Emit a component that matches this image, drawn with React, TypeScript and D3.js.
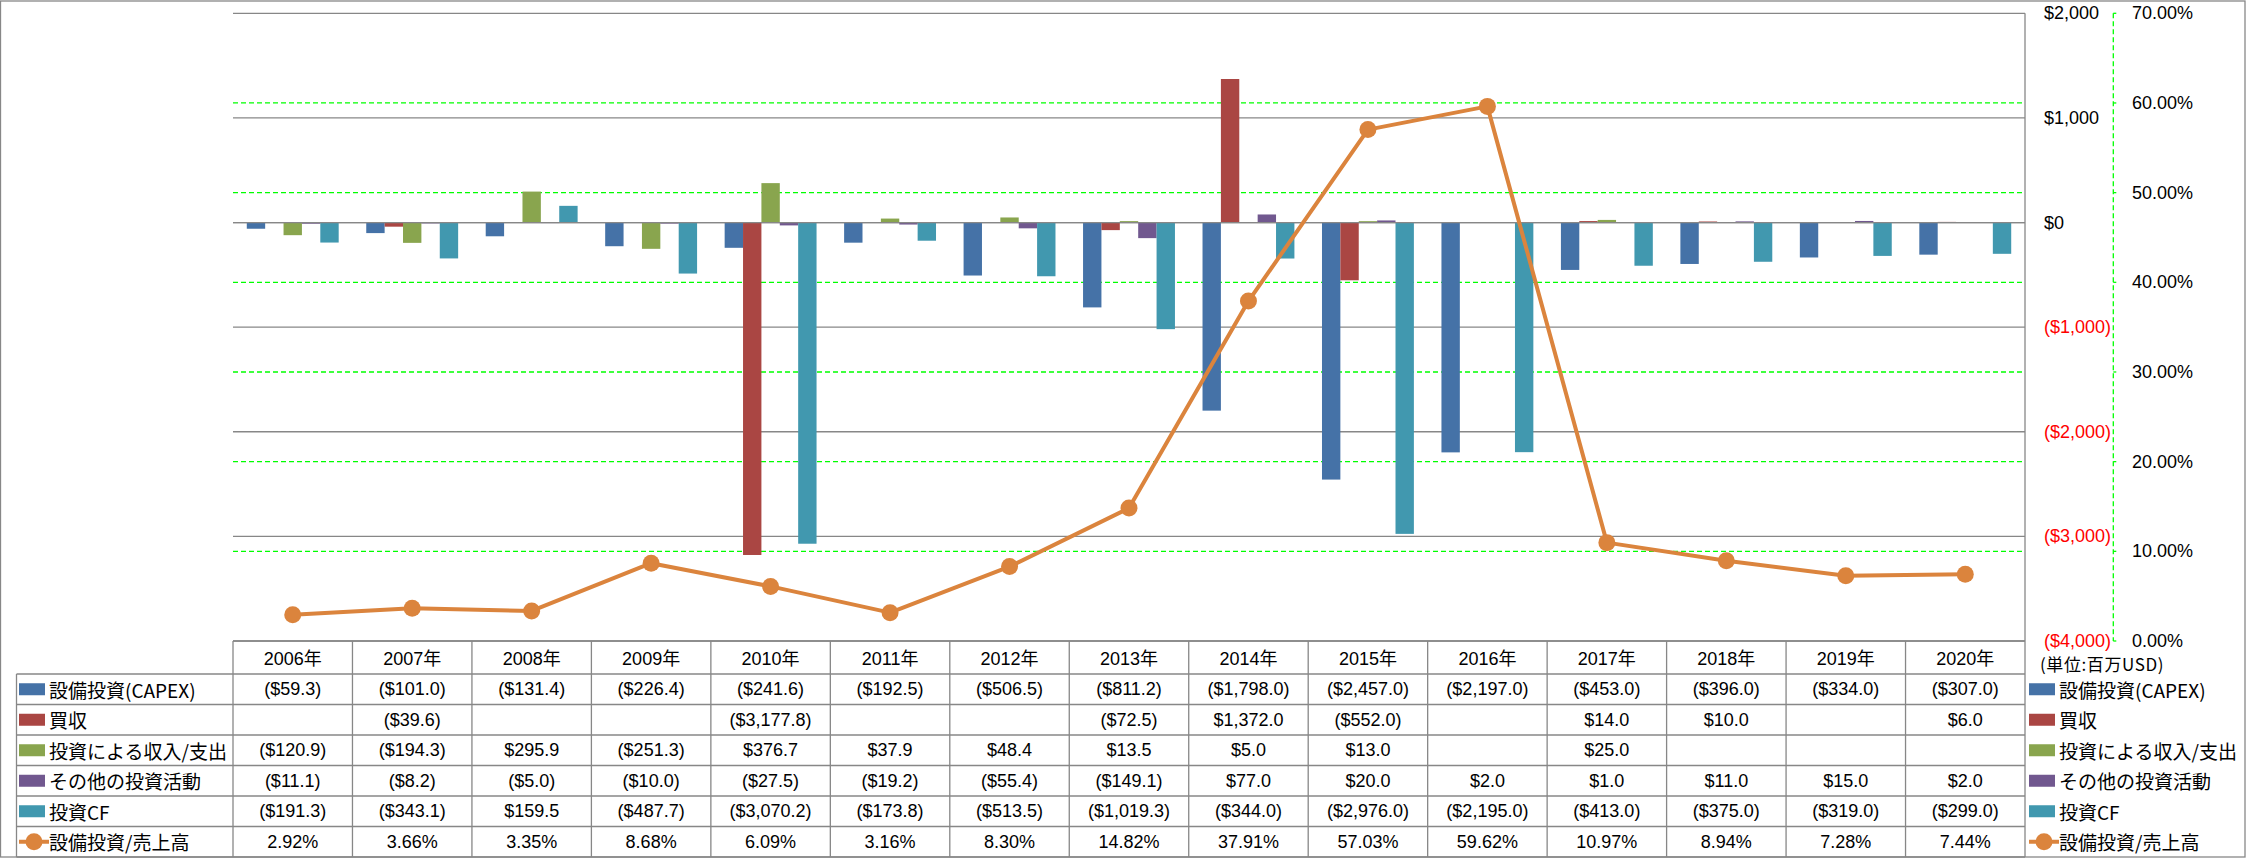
import React from "react";
import * as d3 from "d3";

const years = ["2006年","2007年","2008年","2009年","2010年","2011年","2012年","2013年","2014年","2015年","2016年","2017年","2018年","2019年","2020年"];
const capex: (number | null)[] = [-59.3,-101.0,-131.4,-226.4,-241.6,-192.5,-506.5,-811.2,-1798.0,-2457.0,-2197.0,-453.0,-396.0,-334.0,-307.0];
const acquisition: (number | null)[] = [null,-39.6,null,null,-3177.8,null,null,-72.5,1372.0,-552.0,null,14.0,10.0,null,6.0];
const investIncome: (number | null)[] = [-120.9,-194.3,295.9,-251.3,376.7,37.9,48.4,13.5,5.0,13.0,null,25.0,null,null,null];
const otherInvest: (number | null)[] = [-11.1,-8.2,-5.0,-10.0,-27.5,-19.2,-55.4,-149.1,77.0,20.0,2.0,1.0,11.0,15.0,2.0];
const investCF: (number | null)[] = [-191.3,-343.1,159.5,-487.7,-3070.2,-173.8,-513.5,-1019.3,-344.0,-2976.0,-2195.0,-413.0,-375.0,-319.0,-299.0];
const capexRatio = [2.92,3.66,3.35,8.68,6.09,3.16,8.30,14.82,37.91,57.03,59.62,10.97,8.94,7.28,7.44];

const seriesNames = ["設備投資(CAPEX)","買収","投資による収入/支出","その他の投資活動","投資CF"];
const lineName = "設備投資/売上高";
const seriesColors = ["#4572A7","#AA4643","#89A54E","#71588F","#4198AF"];
const lineColor = "#DB843D";
const leftTicks = [2000,1000,0,-1000,-2000,-3000,-4000];
const rightTicks = [0.7,0.6,0.5,0.4,0.3,0.2,0.1,0.0];
const unitLabel = "(単位:百万USD)";

const W = 2246, H = 858;
const plotL = 233, plotR = 2025, plotT = 13.3, plotB = 641;
const headerB = 674, rowH = 30.5;
const tableL = 16.5;
const font = "'Liberation Sans', Arial, 'Noto Sans CJK JP', sans-serif";
const cjkFont = "'Noto Sans CJK JP', 'Liberation Sans', sans-serif";
const grid = "#878787";

const fmtMoney = (v: number | null) => {
  if (v === null) return "";
  const s = "$" + d3.format(",.1f")(Math.abs(v));
  return v < 0 ? `(${s})` : s;
};
const fmtMoneyAxis = (v: number) => {
  const s = "$" + d3.format(",")(Math.abs(v));
  return v < 0 ? `(${s})` : s;
};

export default function App() {
  const x = d3.scaleBand<string>().domain(years).range([plotL, plotR]).padding(0);
  const bw = x.bandwidth();
  const sub = bw / 6.5;
  const xs = d3.scaleBand<number>().domain([0,1,2,3,4]).range([0.75 * sub, 5.75 * sub]).padding(0);
  const y = d3.scaleLinear().domain([-4000, 2000]).range([plotB, plotT]);
  const yR = d3.scaleLinear().domain([0, 0.7]).range([plotB, plotT]);
  const allSeries = [capex, acquisition, investIncome, otherInvest, investCF];
  const line = d3.line<number>()
    .x((_, i) => (x(years[i]) as number) + bw / 2)
    .y((d) => yR(d / 100));
  const rowsData: string[][] = [
    ...allSeries.map((s) => s.map(fmtMoney)),
    capexRatio.map((v) => v.toFixed(2) + "%"),
  ];
  const rowNames = [...seriesNames, lineName];
  const rowY = (r: number) => headerB + r * rowH;
  const axisX = 2113.3;

  const legendMark = (r: number, lx: number) => {
    const cy = rowY(r) + rowH / 2;
    if (r < 5) {
      return <rect x={lx} y={cy - 6} width={26} height={12} fill={seriesColors[r]} />;
    }
    return (
      <g>
        <line x1={lx} x2={lx + 30} y1={cy} y2={cy} stroke={lineColor} strokeWidth={4} />
        <circle cx={lx + 15} cy={cy} r={8.5} fill={lineColor} />
      </g>
    );
  };

  return (
    <div style={{ position: "absolute", left: 0, top: 0 }}>
      <svg width={W} height={H} style={{ display: "block", background: "#fff" }}>
        <rect x={0.5} y={1} width={W - 1.5} height={H - 2} fill="#fff" stroke={grid} strokeWidth={1.3} />
        {/* green dashed secondary gridlines */}
        {rightTicks.filter((t) => t > 0 && t < 0.7).map((t) => (
          <line key={"g" + t} x1={plotL} x2={plotR} y1={yR(t)} y2={yR(t)} stroke="#00FF00" strokeWidth={1.3} strokeDasharray="5,3" />
        ))}
        {/* gray primary gridlines */}
        {leftTicks.map((t) => (
          <line key={"p" + t} x1={plotL} x2={plotR} y1={y(t)} y2={y(t)} stroke={grid} strokeWidth={1.3} />
        ))}
        {/* bars */}
        {allSeries.map((s, si) => (
          <g key={"s" + si} fill={seriesColors[si]}>
            {s.map((v, i) => {
              if (v === null) return null;
              const x0 = (x(years[i]) as number) + (xs(si) as number);
              const y0 = Math.min(y(v), y(0));
              const h = Math.abs(y(v) - y(0));
              return <rect key={i} x={x0} y={y0} width={xs.bandwidth()} height={h} />;
            })}
          </g>
        ))}
        {/* zero line on top */}
        <line x1={plotL} x2={plotR} y1={y(0)} y2={y(0)} stroke={grid} strokeWidth={1.3} />
        {/* line series */}
        <path d={line(capexRatio) || ""} fill="none" stroke={lineColor} strokeWidth={4} strokeLinejoin="round" />
        {capexRatio.map((v, i) => (
          <circle key={"m" + i} cx={(x(years[i]) as number) + bw / 2} cy={yR(v / 100)} r={8.5} fill={lineColor} />
        ))}
        {/* primary axis (right side) */}
        <line x1={plotR} x2={plotR} y1={plotT} y2={H - 1} stroke={grid} strokeWidth={1.3} />
        {leftTicks.map((t) => (
          <text key={"lt" + t} x={2044} y={y(t)} dominantBaseline="central" fontFamily={font} fontSize={18} fill={t < 0 ? "#FF0000" : "#000"}>
            {fmtMoneyAxis(t)}
          </text>
        ))}
        {/* secondary axis */}
        <line x1={axisX} x2={axisX} y1={plotT} y2={plotB} stroke="#00FF00" strokeWidth={1.3} strokeDasharray="5,3" />
        {rightTicks.map((t) => (
          <g key={"rt" + t}>
            <line x1={axisX} x2={axisX + 3} y1={yR(t)} y2={yR(t)} stroke="#00FF00" strokeWidth={1.3} />
            <text x={2132} y={yR(t)} dominantBaseline="central" fontFamily={font} fontSize={18} fill="#000">
              {(t * 100).toFixed(2) + "%"}
            </text>
          </g>
        ))}
        <text x={2040} y={663} dominantBaseline="central" fontFamily={cjkFont} fontSize={17} letterSpacing={0.6} fill="#000">{unitLabel}</text>
        {/* data table */}
        <g stroke={grid} strokeWidth={1.3}>
          <line x1={plotL} x2={plotR} y1={plotB} y2={plotB} />
          {d3.range(0, 7).map((r) => (
            <line key={"hr" + r} x1={tableL} x2={plotR} y1={rowY(r)} y2={rowY(r)} />
          ))}
          <line x1={tableL} x2={tableL} y1={headerB} y2={H - 1} />
          {years.map((yr) => (
            <line key={"vl" + yr} x1={x(yr) as number} x2={x(yr) as number} y1={plotB} y2={H - 1} />
          ))}
        </g>
        {years.map((yr) => (
          <text key={"yh" + yr} x={(x(yr) as number) + bw / 2} y={(plotB + headerB) / 2 + 1} textAnchor="middle" dominantBaseline="central" fontFamily={font} fontSize={18} fill="#000">
            {yr}
          </text>
        ))}
        {rowsData.map((row, r) => (
          <g key={"row" + r}>
            {legendMark(r, 19)}
            <text x={49} y={rowY(r) + rowH / 2} dominantBaseline="central" fontFamily={cjkFont} fontSize={19} fill="#000">{rowNames[r]}</text>
            {row.map((t, i) => (
              <text key={i} x={(x(years[i]) as number) + bw / 2} y={rowY(r) + rowH / 2} textAnchor="middle" dominantBaseline="central" fontFamily={font} fontSize={18} fill="#000">
                {t}
              </text>
            ))}
            {legendMark(r, 2029)}
            <text x={2059} y={rowY(r) + rowH / 2} dominantBaseline="central" fontFamily={cjkFont} fontSize={19} fill="#000">{rowNames[r]}</text>
          </g>
        ))}
      </svg>
    </div>
  );
}
